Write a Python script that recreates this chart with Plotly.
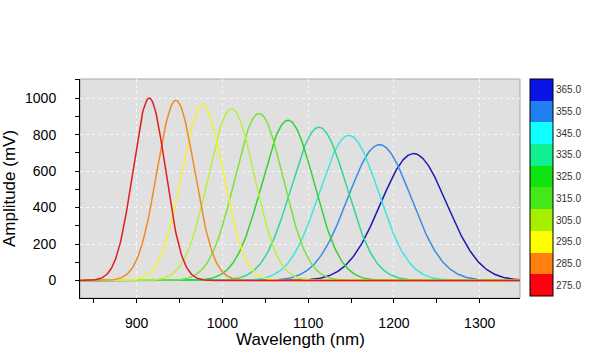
import numpy as np
import plotly.graph_objects as go

# Excitation wavelengths (colour key) and the fitted emission peaks
excitation = [275, 285, 295, 305, 315, 325, 335, 345, 355, 365]
peak_center = [914.7, 945.8, 976.8, 1010.6, 1042.7, 1076.5, 1112.6, 1147.5, 1183.2, 1223.0]
peak_height = [1000, 988, 963, 942, 916, 879, 840, 796, 745, 696]
peak_sigma = [19.0, 22.0, 24.5, 27.0, 28.5, 30.5, 32.5, 34.5, 37.0, 38.5]

line_colors = ["#e01e1e", "#f08a26", "#f2f232", "#b8f040", "#7ce23c",
               "#34d234", "#30d88e", "#3ee6e0", "#3a8ce0", "#1a1ab4"]
band_colors = ["#ff0010", "#ff8010", "#ffff00", "#a4f000", "#44e818",
               "#10e410", "#10f090", "#10ffff", "#2080f0", "#0a14e6"]
band_labels = [f"{v:.1f}" for v in excitation]

wavelength = np.arange(834, 1348, 1.0)

fig = go.Figure()

# Longest excitation first so the red trace ends on top
for i in reversed(range(len(excitation))):
    amp = peak_height[i] * np.exp(-0.5 * ((wavelength - peak_center[i]) / peak_sigma[i]) ** 2)
    fig.add_trace(go.Scatter(
        x=wavelength, y=amp, mode="lines",
        line=dict(color=line_colors[i], width=1.5),
        showlegend=False, hoverinfo="skip",
    ))

# Stepped colour scale for the excitation key
n = len(band_colors)
scale = []
for i, c in enumerate(band_colors):
    scale.append([i / n, c])
    scale.append([(i + 1) / n, c])

fig.add_trace(go.Scatter(
    x=[None], y=[None], mode="markers",
    marker=dict(
        color=[excitation[0]], cmin=270, cmax=370, colorscale=scale,
        showscale=True,
        colorbar=dict(
            x=1.0227, xanchor="left", xpad=0,
            y=1, yanchor="top", ypad=0,
            lenmode="pixels", len=217, thickness=23,
            outlinecolor="#000000", outlinewidth=1,
            tickvals=excitation, ticktext=band_labels, ticks="",
            tickfont=dict(size=10, color="#333333"),
        ),
    ),
    showlegend=False, hoverinfo="skip",
))

fig.add_shape(type="rect", xref="paper", yref="paper", x0=0, x1=1, y0=0, y1=1,
              line=dict(color="#a8a8a8", width=1), layer="below")

# x-axis title sits low, just above the page edge
fig.add_annotation(text="Wavelength (nm)", xref="paper", yref="paper",
                   x=0.5, y=-0.188, xanchor="center", yanchor="middle",
                   showarrow=False, font=dict(size=17, color="#000000"))

fig.update_xaxes(
    range=[834, 1347], dtick=100, tick0=0, automargin=False,
    showgrid=True, gridcolor="#f6f6f6", griddash="dot", gridwidth=1,
    zeroline=False, showline=True, linecolor="#000000", linewidth=1,
    ticks="outside", ticklen=4, tickcolor="#000000",
    minor=dict(dtick=50, ticks="outside", ticklen=4, tickcolor="#000000", showgrid=False),
    ticklabelstandoff=8,
    tickfont=dict(size=14, color="#000000"),
)
fig.update_yaxes(
    range=[-96, 1105], dtick=200, tick0=0, automargin=False,
    showgrid=True, gridcolor="#f6f6f6", griddash="dot", gridwidth=1,
    zeroline=False, showline=True, linecolor="#000000", linewidth=1,
    ticks="outside", ticklen=4, tickcolor="#000000",
    minor=dict(dtick=100, ticks="outside", ticklen=4, tickcolor="#000000", showgrid=False),
    ticklabelstandoff=16,
    tickfont=dict(size=14, color="#000000"),
    title=dict(text="Amplitude (mV)", font=dict(size=17, color="#000000"), standoff=8),
)

fig.update_layout(
    width=600, height=350,
    margin=dict(l=80, r=80, t=79, b=52, autoexpand=False),
    paper_bgcolor="#ffffff", plot_bgcolor="#e0e0e0",
    font=dict(family="Arial, Liberation Sans, sans-serif"),
)

fig.write_html("out.html")
